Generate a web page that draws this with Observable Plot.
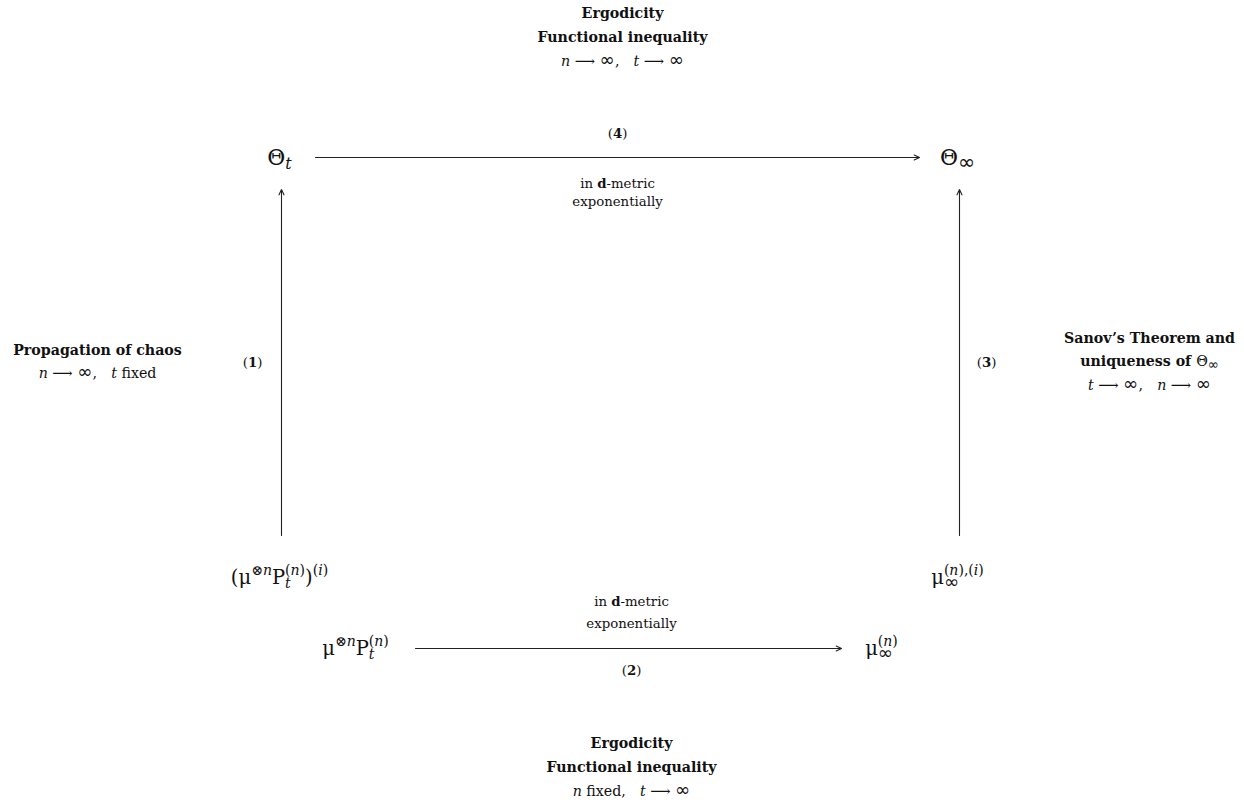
<!DOCTYPE html>
<html><head><meta charset="utf-8">
<script src="https://cdn.jsdelivr.net/npm/d3@7"></script>
<script src="https://cdn.jsdelivr.net/npm/@observablehq/plot@0.6"></script>
<style>body{margin:0;background:#fff} svg{display:block}</style>
</head><body><div id="chart"></div>
<script>
const W = 1244, H = 800;
const FONT = "'DejaVu Serif', 'Liberation Serif', serif";

// Diagram nodes (math labels) on a 1244 x 800 logical grid
const nodeLabels = ["$Θ_{t}$", "$Θ_{∞}$", "$(μ^{⊗n}P_{t}^{(n)})^{(i)}$", "$μ_{∞}^{(n),(i)}$", "$μ^{⊗n}P_{t}^{(n)}$", "$μ_{∞}^{(n)}$"];
const nodeX = [279, 957, 279, 957, 355, 881];
const nodeY = [157, 157, 577, 577, 648, 648];

// Arrows (from -> to)
const arrowX1 = [315, 281, 959, 415];
const arrowY1 = [157, 535, 535, 648];
const arrowX2 = [919, 281, 959, 841];
const arrowY2 = [157, 189, 189, 648];

// Arrow labels
const edgeLabels = ["(**4**)", "in **d**-metric", "exponentially", "(**1**)", "(**3**)", "in **d**-metric", "exponentially", "(**2**)"];
const edgeLabelX = [617, 617, 617, 252, 986, 631, 631, 631];
const edgeLabelY = [133, 183, 201, 362, 362, 601, 623, 670];

// Side notes (headings and regimes)
const noteLines = [
  "**Ergodicity**", "**Functional inequality**", "$n ⟶ ∞$,\u2003$t ⟶ ∞$",
  "**Propagation of chaos**", "$n ⟶ ∞$,\u2003$t$ fixed",
  "**Sanov’s Theorem and**", "**uniqueness of **$Θ_{∞}$", "$t ⟶ ∞$,\u2003$n ⟶ ∞$",
  "**Ergodicity**", "**Functional inequality**", "$n$ fixed,\u2003$t ⟶ ∞$"
];
const noteX = [622, 622, 622, 97, 97, 1149, 1149, 1149, 631, 631, 631];
const noteY = [13, 37, 61, 350, 373, 338, 361, 385, 743, 767, 791];

const idx = a => d3.range(a.length);

const plot = Plot.plot({
  width: W, height: H, margin: 0,
  x: {domain: [0, W], range: [0, W], axis: null},
  y: {domain: [0, H], range: [0, H], axis: null},
  style: {fontFamily: FONT, background: "#fff", color: "#111"},
  marks: [
    Plot.arrow(idx(arrowX1), {
      x1: i => arrowX1[i], y1: i => arrowY1[i], x2: i => arrowX2[i], y2: i => arrowY2[i],
      stroke: "#222", strokeWidth: 1.1, headLength: 8, headAngle: 50
    }),
    Plot.text(idx(nodeLabels).filter(i => nodeY[i] < 300), {x: i => nodeX[i], y: i => nodeY[i], text: i => nodeLabels[i], fontSize: 22, fill: "#111"}),
    Plot.text(idx(nodeLabels).filter(i => nodeY[i] >= 300), {x: i => nodeX[i], y: i => nodeY[i], text: i => nodeLabels[i], fontSize: 19.5, fill: "#111"}),
    Plot.text(idx(edgeLabels), {x: i => edgeLabelX[i], y: i => edgeLabelY[i], text: i => edgeLabels[i], fontSize: 13.3, fill: "#111"}),
    Plot.text(idx(noteLines), {x: i => noteX[i], y: i => noteY[i], text: i => noteLines[i], fontSize: 14.2, fill: "#111"})
  ]
});
document.getElementById("chart").appendChild(plot);

// Rich-text: **bold**, $math$ (lowercase Latin italic), _{sub}, ^{sup}
function parse(s) {
  const segs = [];
  let bold = false, math = false, level = 0, group = 0, gid = 0, stackOn = null, justClosed = null;
  let cur = null;
  for (let i = 0; i < s.length; i++) {
    const ch = s[i];
    if (ch === "*" && s[i + 1] === "*") { bold = !bold; i++; cur = null; justClosed = null; continue; }
    if (ch === "$") { math = !math; cur = null; continue; }
    if ((ch === "_" || ch === "^") && s[i + 1] === "{") {
      gid++; group = gid; level = ch === "_" ? -1 : 1;
      stackOn = (ch === "^" && justClosed && justClosed.type === "_") ? justClosed.id : null;
      i++; cur = null; justClosed = null; continue;
    }
    if (ch === "}" && level !== 0) {
      justClosed = {type: level < 0 ? "_" : "^", id: group};
      level = 0; group = 0; cur = null; continue;
    }
    justClosed = null;
    const italic = math && /[a-z]/.test(ch);
    const sym = ch === "∞";
    if (cur && !sym && !cur.sym && cur.bold === bold && cur.italic === italic && cur.level === level && cur.group === group) cur.text += ch;
    else {
      cur = {text: ch, bold, italic, level, group, sym, stackOn: null};
      if (stackOn !== null && group !== 0 && !segs.some(g => g.group === group)) cur.stackOn = stackOn;
      segs.push(cur);
    }
  }
  return segs;
}

plot.querySelectorAll("text").forEach(t => {
  const s = t.textContent;
  const size = parseFloat(getComputedStyle(t).fontSize);
  const sel = d3.select(t);
  sel.text(null).style("white-space", "pre");
  let curDy = 0;
  const gw = {};
  for (const seg of parse(s)) {
    let fs = seg.level === 0 ? size : size * 0.72;
    const target = seg.level === 0 ? 0 : seg.level < 0 ? size * 0.2 : -size * 0.45;
    const ts = sel.append("tspan").text(seg.text);
    if (seg.sym) { fs *= 1.3; ts.attr("font-family", "'DejaVu Sans', sans-serif").attr("font-weight", "normal"); }
    ts.attr("font-size", fs);
    if (seg.bold && !seg.sym) ts.attr("font-weight", "bold");
    if (seg.italic) ts.attr("font-style", "italic");
    if (target !== curDy) { ts.attr("dy", target - curDy); curDy = target; }
    if (seg.stackOn !== null) ts.attr("dx", -(gw[seg.stackOn] || 0));
    const w = ts.node().getComputedTextLength();
    if (seg.group) gw[seg.group] = (gw[seg.group] || 0) + w;
  }
});
</script>
</body></html>
